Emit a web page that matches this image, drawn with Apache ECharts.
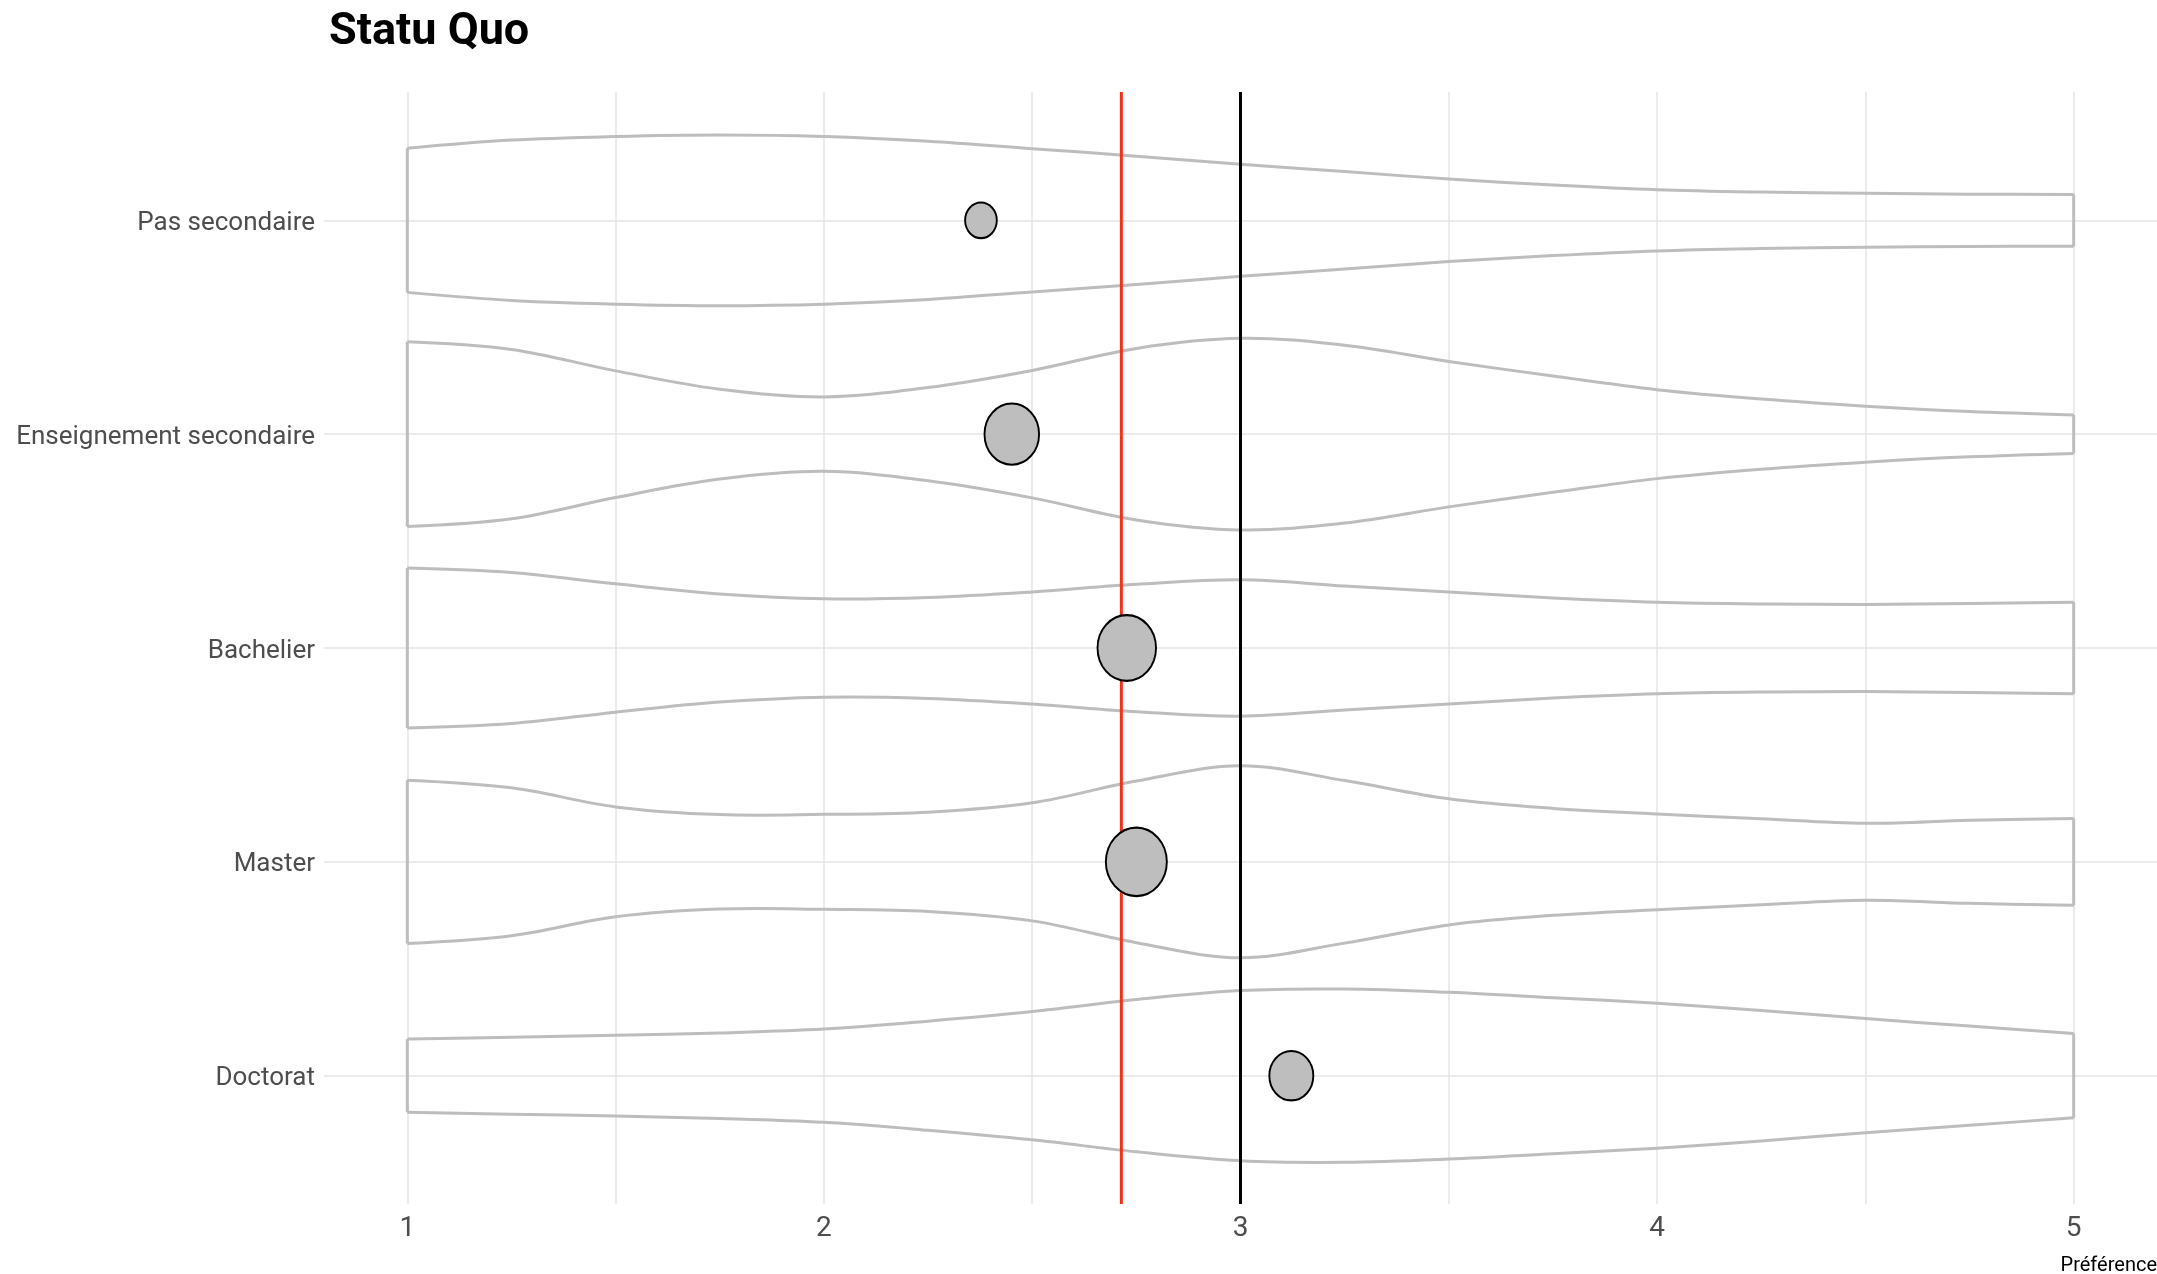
<!DOCTYPE html>
<html><head><meta charset="utf-8">
<script src="https://cdn.jsdelivr.net/npm/echarts@6/dist/echarts.min.js"></script>
<style>html,body{margin:0;padding:0;background:#fff}#c{width:2157px;height:1274px}</style>
</head><body><div id="c"></div>
<script>
// ---- data ----
const categories = ['Pas secondaire', 'Enseignement secondaire', 'Bachelier', 'Master', 'Doctorat'];
const xGrid = [1, 1.25, 1.5, 1.75, 2, 2.25, 2.5, 2.75, 3, 3.25, 3.5, 3.75, 4, 4.25, 4.5, 4.75, 5];
// violin half-widths (in category units) at each xGrid value
const densPasSecondaire = [0.337, 0.375, 0.392, 0.399, 0.392, 0.370, 0.335, 0.300, 0.262, 0.228, 0.193, 0.165, 0.143, 0.132, 0.126, 0.122, 0.121];
const densEnseignement = [0.432, 0.396, 0.296, 0.210, 0.174, 0.218, 0.298, 0.401, 0.448, 0.416, 0.340, 0.272, 0.208, 0.164, 0.131, 0.106, 0.090];
const densBachelier = [0.374, 0.353, 0.300, 0.253, 0.230, 0.236, 0.262, 0.298, 0.319, 0.290, 0.262, 0.234, 0.214, 0.206, 0.204, 0.208, 0.214];
const densMaster = [0.382, 0.346, 0.257, 0.221, 0.222, 0.232, 0.276, 0.378, 0.449, 0.380, 0.295, 0.250, 0.224, 0.201, 0.180, 0.194, 0.203];
const densDoctorat = [0.171, 0.180, 0.189, 0.200, 0.218, 0.255, 0.300, 0.356, 0.398, 0.405, 0.390, 0.365, 0.339, 0.305, 0.267, 0.232, 0.197];
const densities = [densPasSecondaire, densEnseignement, densBachelier, densMaster, densDoctorat];
const meanValues = [2.377, 2.451, 2.727, 2.750, 3.122];
const sampleSizes = [27, 80, 92, 100, 52];
const refLineValues = [2.714, 3];
const xTickValues = [1, 2, 3, 4, 5];
const xGridValues = [1, 1.5, 2, 2.5, 3, 3.5, 4, 4.5, 5];
const yTickValues = [1, 2, 3, 4, 5];

// ---- styles ----
const FONT = 'Roboto, "Liberation Sans", sans-serif';
const refLineColors = ['#F03219', '#000000'];

const chart = echarts.init(document.getElementById('c'), null, {renderer: 'canvas'});
chart.setOption({
  animation: false,
  backgroundColor: '#ffffff',
  title: {
    text: 'Statu Quo', left: 324, top: 5,
    textStyle: {fontFamily: FONT, fontSize: 45, fontWeight: 'bold', color: '#000'}
  },
  grid: {left: 324, right: 0, top: 92, bottom: 70, containLabel: false, outerBoundsMode: 'none'},
  xAxis: {
    type: 'value', min: 0.8, max: 5.2,
    name: 'Préférence', nameLocation: 'end', nameGap: 0,
    nameTextStyle: {fontFamily: FONT, fontSize: 20, color: '#000', align: 'right', verticalAlign: 'top', padding: [52, 0, 0, 0]},
    axisLine: {show: false},
    axisTick: {show: false, customValues: xGridValues},
    axisLabel: {customValues: xTickValues, margin: 11, fontFamily: FONT, fontSize: 28, color: '#4D4D4D'},
    splitLine: {show: true, lineStyle: {color: '#E4E4E4', width: 1.5}}
  },
  yAxis: {
    type: 'value', min: 0.4, max: 5.6, inverse: true,
    axisLine: {show: false},
    axisTick: {show: false, customValues: yTickValues},
    axisLabel: {
      customValues: yTickValues, margin: 9, fontFamily: FONT, fontSize: 26, color: '#4D4D4D',
      formatter: v => '{c|' + (categories[Math.round(v) - 1] || '') + '}',
      rich: {c: {fontFamily: FONT, fontSize: 26, color: '#4D4D4D', padding: [6, 0, 0, 0]}}
    },
    splitLine: {show: true, lineStyle: {color: '#E4E4E4', width: 1.5}}
  },
  series: [
    {
      type: 'custom', name: 'violins', z: 2,
      data: categories.map((c, i) => [xGrid[0], i + 1]),
      renderItem: function (params, api) {
        const i = params.dataIndex;
        const w = densities[i];
        const c = i + 1;
        const top = xGrid.map((x, k) => api.coord([x, c - w[k]]));
        const bot = xGrid.map((x, k) => api.coord([x, c + w[k]]));
        const n = xGrid.length;
        const st = {stroke: '#BDBDBD', lineWidth: 3, fill: null};
        return {
          type: 'group',
          children: [
            {type: 'polyline', shape: {points: top, smooth: 0.35}, style: st},
            {type: 'polyline', shape: {points: bot, smooth: 0.35}, style: st},
            {type: 'line', shape: {x1: top[0][0], y1: top[0][1], x2: bot[0][0], y2: bot[0][1]}, style: st},
            {type: 'line', shape: {x1: top[n - 1][0], y1: top[n - 1][1], x2: bot[n - 1][0], y2: bot[n - 1][1]}, style: st}
          ]
        };
      }
    },
    {
      type: 'custom', name: 'refLines', z: 3,
      data: refLineValues.map(v => [v, 3]),
      renderItem: function (params, api) {
        const v = api.value(0);
        const p1 = api.coord([v, 0.4]);
        const p2 = api.coord([v, 5.6]);
        return {
          type: 'line',
          shape: {x1: p1[0], y1: p1[1], x2: p2[0], y2: p2[1]},
          style: {stroke: refLineColors[params.dataIndex], lineWidth: 3}
        };
      }
    },
    {
      type: 'scatter', name: 'means', z: 4,
      data: meanValues.map((m, i) => [m, i + 1, sampleSizes[i]]),
      symbol: 'circle',
      symbolSize: d => [6.1 * Math.sqrt(d[2]), 6.85 * Math.sqrt(d[2])],
      itemStyle: {color: '#BEBEBE', borderColor: '#000', borderWidth: 2, opacity: 1}
    }
  ]
});
</script>
</body></html>
